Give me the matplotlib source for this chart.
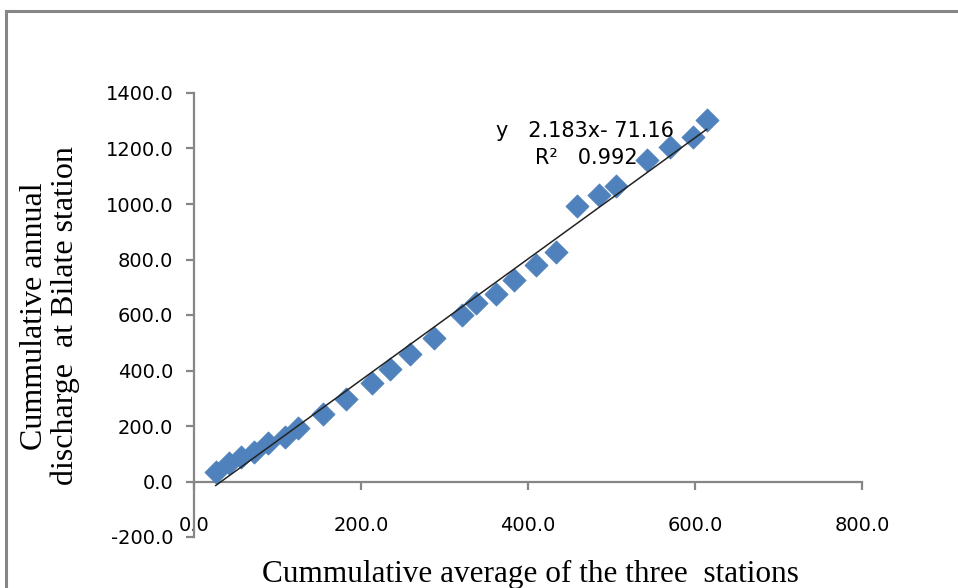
import matplotlib
matplotlib.use("Agg")
import matplotlib.pyplot as plt
from matplotlib.patches import Rectangle

# cumulative average of the three stations (x) vs cumulative discharge at Bilate (y)
avg_three = [26, 42, 56, 72, 89, 109, 124, 154, 182, 213, 235, 259, 288,
             321, 338, 362, 383, 410, 433, 459, 485, 505, 542, 570, 598, 614]
bilate = [36, 65, 87, 108, 137, 159, 193, 245, 296, 354, 404, 458, 516,
          599, 642, 675, 725, 779, 826, 992, 1032, 1064, 1158, 1205, 1241, 1302]

slope = 2.183
intercept = -71.16
eq_text = "y   2.183x- 71.16"
r2_text = "R\u00b2   0.992"

x_ticks = [0, 200, 400, 600, 800]
y_ticks = [-200, 0, 200, 400, 600, 800, 1000, 1200, 1400]

GRAY = '#868686'
BLUE = '#4F81BD'

fig = plt.figure(figsize=(9.58, 5.88), dpi=100)
W, H = 958, 588

# outer chart frame (clipped at right/bottom like the original)
fig.patches.append(Rectangle((6 / W, -0.1), 1.2, (H - 11) / H + 0.1,
                             transform=fig.transFigure, fill=False,
                             edgecolor=GRAY, linewidth=2.2))

ax = fig.add_axes([194 / W, (H - 537) / H, (862 - 194) / W, (537 - 93) / H])
ax.set_xlim(0, 800)
ax.set_ylim(-200, 1400)

ax.scatter(avg_three, bilate, marker='D', s=140, color=BLUE, edgecolor=BLUE,
           linewidth=0.5, zorder=3, clip_on=False)

x0, x1 = min(avg_three), max(avg_three)
ax.plot([x0, x1], [slope * x0 + intercept, slope * x1 + intercept],
        color='#222222', linewidth=1.1, zorder=4)

ax.spines['top'].set_visible(False)
ax.spines['right'].set_visible(False)
ax.spines['bottom'].set_position(('data', 0))
for s in ('left', 'bottom'):
    ax.spines[s].set_color(GRAY)
    ax.spines[s].set_linewidth(1.6)

ax.set_xticks(x_ticks)
ax.set_yticks(y_ticks)
ax.set_xticklabels([f"{v:.1f}" for v in x_ticks])
ax.set_yticklabels([f"{v:.1f}" for v in y_ticks])
ax.tick_params(axis='both', colors=GRAY, labelcolor='black', width=1.6,
               length=6, labelsize=14)
ax.tick_params(axis='x', pad=19)
ax.tick_params(axis='y', pad=9)
for lab in ax.get_xticklabels() + ax.get_yticklabels():
    lab.set_family('DejaVu Sans')

ax.text(362, 1263, eq_text, fontsize=15, family='DejaVu Sans', va='center')
ax.text(408, 1165, r2_text, fontsize=15, family='DejaVu Sans', va='center')

fig.text(530 / W, 1 - 574 / H, "Cummulative average of the three  stations",
         ha='center', va='center', fontsize=22.5, family='Liberation Serif')
fig.text(50 / W, 1 - 316 / H, "Cummulative annual\ndischarge  at Bilate station",
         ha='center', va='center', rotation=90, fontsize=23,
         family='Liberation Serif', linespacing=1.1)

fig.savefig('out.png', dpi=100)
